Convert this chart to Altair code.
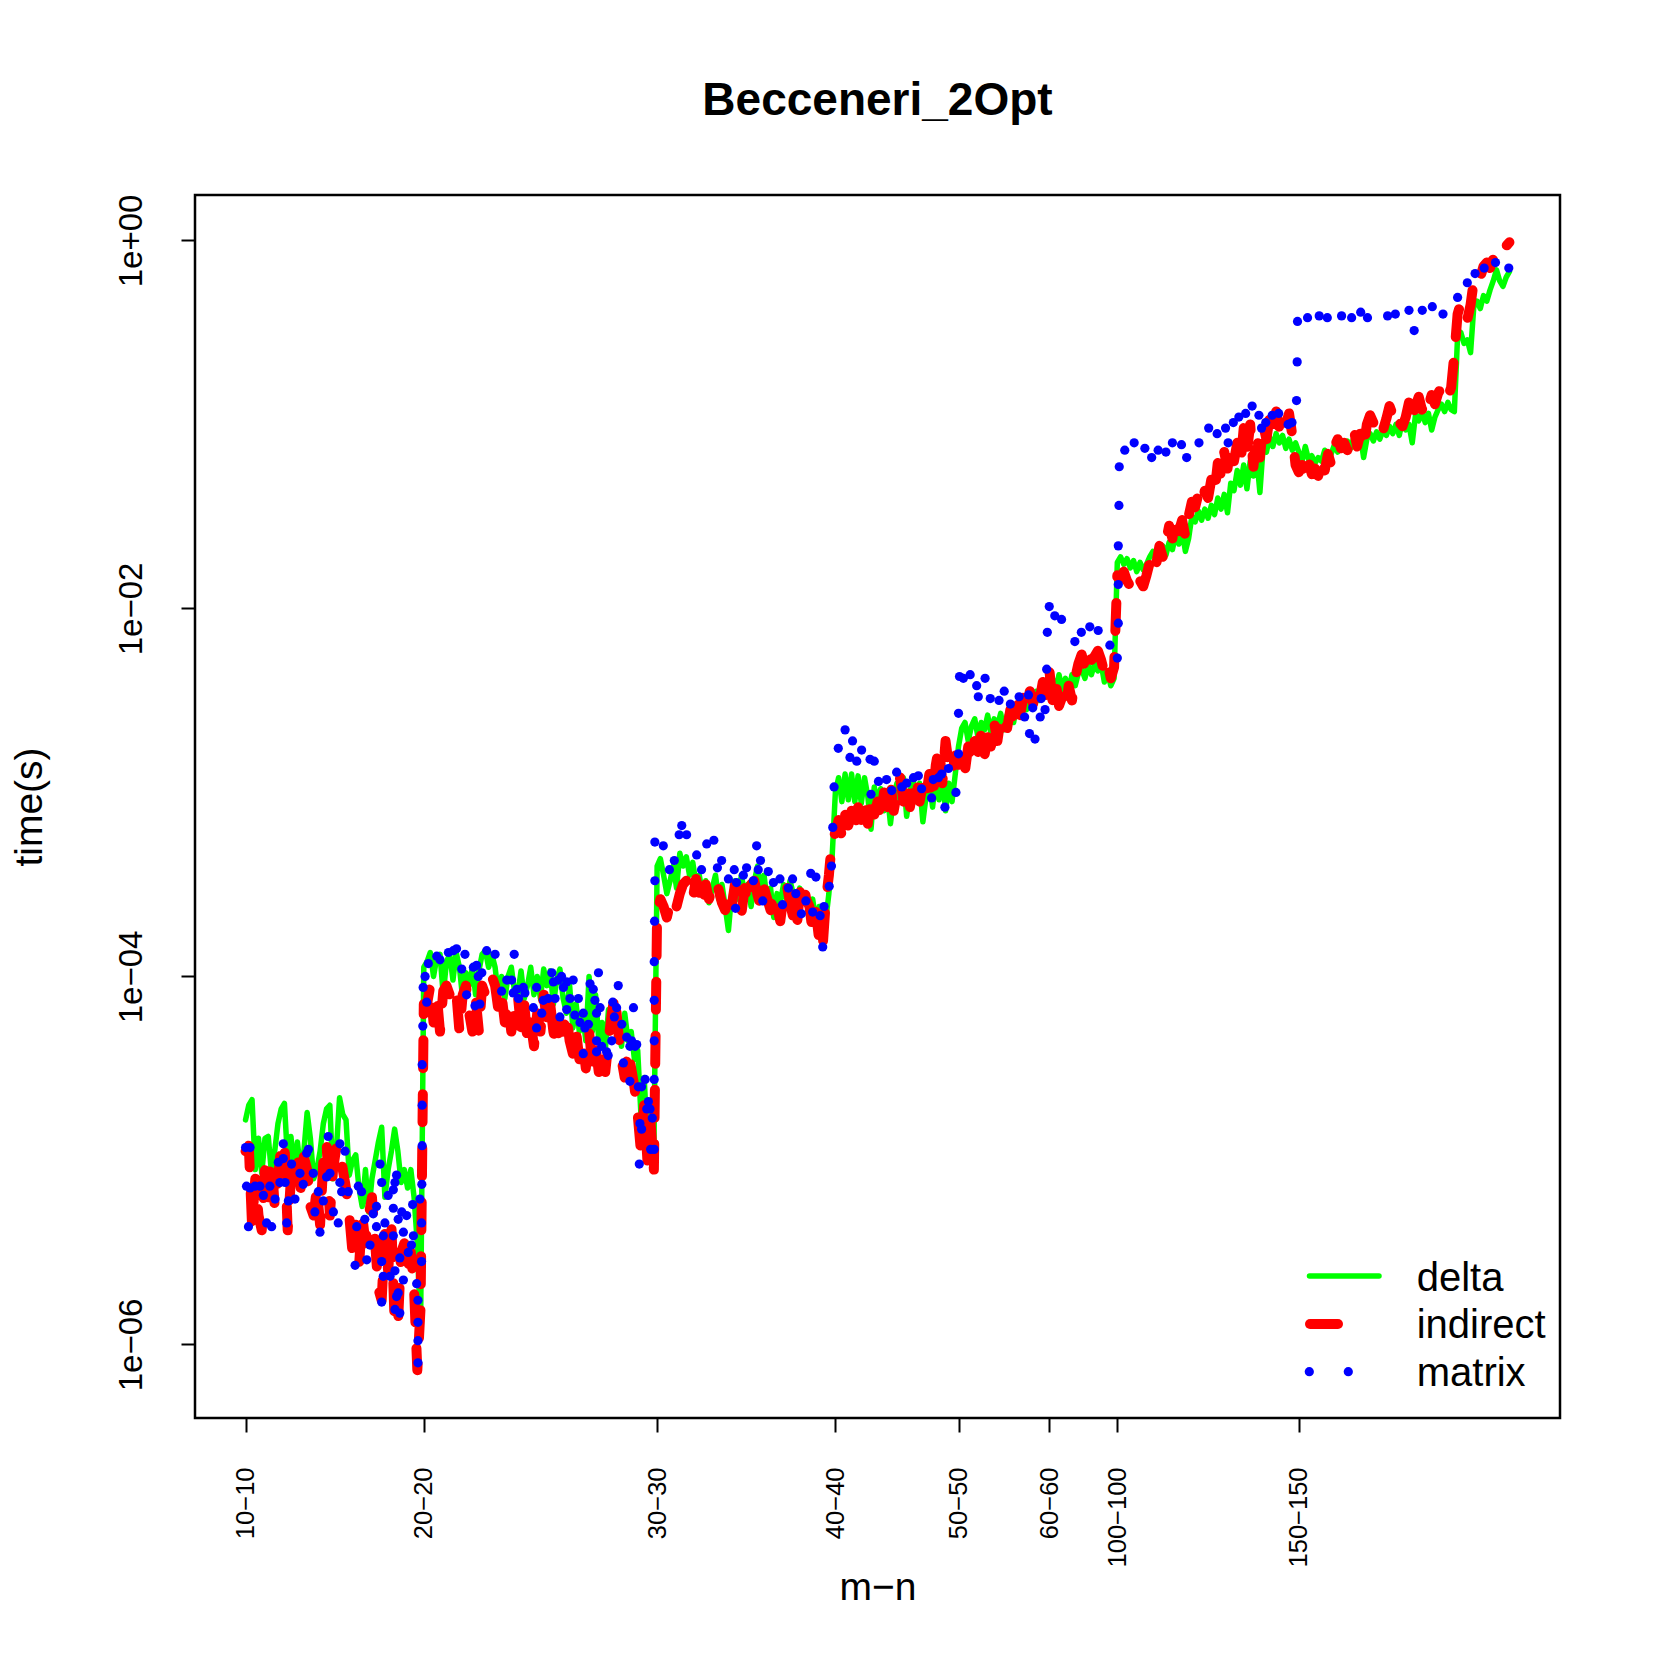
import math
import altair as alt
import pandas as pd

FONT = "Liberation Sans, Arial, Helvetica, sans-serif"

# ---- axis ticks / labels ----
tick_index = [1, 56, 128, 183, 221, 249, 270, 326]
tick_labels = ["10\u221210", "20\u221220", "30\u221230", "40\u221240",
               "50\u221250", "60\u221260", "100\u2212100", "150\u2212150"]
y_tick_values = [1.0, 1e-2, 1e-4, 1e-6]
y_tick_labels = ["1e+00", "1e\u221202", "1e\u221204", "1e\u221206"]

# ---- series values (log10 of time in seconds), one per instance index ----
delta_log10 = [
    # 10-10
    -4.78, -4.70, -4.67, -5.05, -4.88, -5.07, -4.88, -4.87, -5.07, -4.95,
    -4.80, -4.72, -4.69, -5.01, -4.87, -5.05, -4.90, -5.06, -4.95, -4.74,
    -4.88, -5.10, -5.05, -4.95, -4.80, -4.72, -4.70, -5.10, -4.95, -4.66,
    -4.75, -4.78, -5.08, -5.00, -4.97, -5.15, -5.25, -5.05, -5.28, -5.10,
    -5.00, -4.90, -4.82, -5.20, -5.05, -4.95, -4.83, -4.95, -5.12, -5.05,
    -5.15, -5.05, -5.20, -5.45, -5.92,
    # 20-20
    -3.95, -3.92, -3.87, -4.00, -3.90, -3.88, -4.10, -3.92, -3.88, -4.02,
    -3.87, -3.95, -4.12, -3.98, -4.05, -3.95, -4.10, -3.97, -3.88, -3.86,
    -3.95, -3.88, -3.95, -4.10, -4.00, -4.12, -4.00, -3.95, -4.08, -4.10,
    -3.97, -4.12, -4.05, -3.95, -4.10, -4.00, -4.12, -3.96, -4.05, -3.97,
    -4.15, -4.02, -3.96, -4.12, -4.20, -4.05, -4.28, -4.15, -4.30, -4.20,
    -4.35, -4.00, -4.30, -4.10, -4.35, -4.25, -4.40, -4.18, -4.30, -4.25,
    -4.22, -4.38, -4.20, -4.35, -4.30, -4.45, -4.40, -4.75, -4.55, -4.90,
    -4.70, -4.95,
    # 30-30
    -3.40, -3.36, -3.45, -3.55, -3.48, -3.40, -3.52, -3.33, -3.40, -3.35,
    -3.45, -3.38, -3.50, -3.45, -3.55, -3.48, -3.60, -3.52, -3.45, -3.58,
    -3.50, -3.62, -3.75, -3.55, -3.48, -3.58, -3.45, -3.55, -3.50, -3.62,
    -3.48, -3.40, -3.55, -3.45, -3.60, -3.52, -3.68, -3.55, -3.60, -3.50,
    -3.58, -3.48, -3.55, -3.62, -3.52, -3.60, -3.55, -3.65, -3.58, -3.70,
    -3.62, -3.78, -3.70, -3.55, -3.35,
    # 40-40
    -3.00, -2.92, -3.05, -2.90, -3.04, -2.90, -3.05, -2.91, -3.06, -2.92,
    -3.02, -3.20, -2.97, -3.05, -2.98, -3.10, -3.00, -3.17, -3.02, -2.95,
    -3.05, -2.92, -3.13, -3.00, -2.93, -3.05, -2.95, -3.16, -3.02, -2.94,
    -3.08, -2.92, -3.04, -2.90, -3.10, -2.95, -3.05, -2.90,
    # 50-50
    -2.75, -2.65, -2.62, -2.72, -2.64, -2.60, -2.70, -2.62, -2.66, -2.58,
    -2.68, -2.60, -2.64, -2.57, -2.66, -2.58, -2.55, -2.62, -2.52, -2.58,
    -2.50, -2.55, -2.47, -2.53, -2.45, -2.50, -2.42, -2.48,
    # 60-60
    -2.44, -2.38, -2.45, -2.36, -2.44, -2.38, -2.45, -2.36, -2.42, -2.35,
    -2.33, -2.38, -2.31, -2.36, -2.30, -2.34, -2.30, -2.40, -2.35, -2.42,
    -2.38,
    # 100-100
    -1.75, -1.72, -1.76, -1.73, -1.78, -1.74, -1.80, -1.75, -1.79, -1.76,
    -1.72, -1.69, -1.74, -1.70, -1.66, -1.71, -1.64, -1.68, -1.60, -1.65,
    -1.58, -1.69, -1.62, -1.50, -1.53, -1.47, -1.52, -1.46, -1.51, -1.44,
    -1.49, -1.40, -1.46, -1.38, -1.48, -1.32, -1.36, -1.25, -1.33, -1.22,
    -1.35, -1.20, -1.28, -1.18, -1.37, -1.12, -1.15, -1.07, -1.12, -1.05,
    -1.10, -1.06, -1.13, -1.08, -1.14, -1.10,
    # 150-150 and beyond
    -1.15, -1.20, -1.12, -1.19, -1.17, -1.21, -1.18, -1.20, -1.14, -1.21,
    -1.16, -1.11, -1.15, -1.10, -1.14, -1.09, -1.13, -1.07, -1.12, -1.06,
    -1.18, -1.08, -1.05, -1.09, -1.04, -1.08, -1.03, -1.06, -1.01, -1.05,
    -1.00, -1.06, -0.98, -1.03, -1.00, -1.10, -0.95, -0.98, -0.93, -0.99,
    -0.94, -1.03, -0.96, -0.92, -0.89, -0.93, -0.88, -0.92, -0.93, -0.52,
    -0.50, -0.56, -0.54, -0.61, -0.36, -0.33, -0.37, -0.30, -0.33, -0.27,
    -0.22, -0.16, -0.22, -0.25, -0.20, -0.17,
]

indirect_log10 = [
    # 10-10
    -4.95, -4.92, -5.35, -5.10, -5.30, -5.38, -5.05, -5.20, -5.00, -5.25,
    -5.10, -4.92, -4.90, -5.38, -5.10, -5.00, -4.97, -5.15, -4.98, -5.05,
    -5.25, -5.30, -5.15, -5.35, -5.00, -4.90, -5.30, -5.05, -4.93, -4.92,
    -5.05, -5.15, -5.30, -5.50, -5.35, -5.58, -5.30, -5.45, -5.30, -5.20,
    -5.45, -5.70, -5.76, -5.40, -5.60, -5.35, -5.88, -5.90, -5.50, -5.45,
    -5.60, -5.50, -5.70, -6.14, -5.80,
    # 20-20
    -4.15, -4.15, -4.05, -4.25, -4.10, -4.30, -4.08, -4.05, -4.10, -4.05,
    -4.08, -4.30, -4.10, -4.05, -4.20, -4.30, -4.12, -4.30, -4.05, -4.10,
    -4.02, -4.00, -4.05, -4.18, -4.10, -4.25, -4.15, -4.30, -4.20, -4.10,
    -4.28, -4.15, -4.35, -4.25, -4.38, -4.20, -4.30, -4.10, -4.25, -4.15,
    -4.30, -4.38, -4.25, -4.30, -4.20, -4.35, -4.42, -4.30, -4.45, -4.35,
    -4.50, -4.30, -4.48, -4.38, -4.52, -4.40, -4.52, -4.35, -4.20, -4.10,
    -4.30, -4.45, -4.55, -4.40, -4.50, -4.60, -4.75, -4.95, -4.70, -5.00,
    -4.80, -5.05,
    # 30-30
    -3.65, -3.58, -3.62, -3.68, -3.60, -3.65, -3.62, -3.55, -3.50, -3.48,
    -3.52, -3.58, -3.47, -3.55, -3.62, -3.50, -3.58, -3.52, -3.48, -3.53,
    -3.60, -3.64, -3.55, -3.62, -3.50, -3.58, -3.66, -3.52, -3.60, -3.50,
    -3.48, -3.56, -3.62, -3.52, -3.58, -3.64, -3.55, -3.62, -3.70, -3.56,
    -3.50, -3.60, -3.68, -3.75, -3.55, -3.48, -3.58, -3.62, -3.76, -3.65,
    -3.80, -3.86, -3.60, -3.45, -3.25,
    # 40-40
    -3.22, -3.15, -3.24, -3.12, -3.18, -3.10, -3.20, -3.08, -3.15, -3.05,
    -3.17, -3.02, -3.12, -3.05, -3.14, -3.00, -3.08, -2.95, -3.10, -3.00,
    -2.92, -3.05, -2.95, -3.08, -2.98, -2.92, -3.05, -2.95, -3.02, -2.90,
    -3.04, -2.85, -2.75, -2.95, -2.72, -2.85, -2.90, -2.80,
    # 50-50
    -2.85, -2.78, -2.88, -2.75, -2.82, -2.72, -2.78, -2.68, -2.80, -2.70,
    -2.75, -2.62, -2.72, -2.60, -2.58, -2.65, -2.55, -2.60, -2.50, -2.58,
    -2.48, -2.55, -2.45, -2.52, -2.44, -2.50, -2.40, -2.47,
    # 60-60
    -2.33, -2.50, -2.40, -2.53, -2.48, -2.55, -2.42, -2.50, -2.38, -2.30,
    -2.25, -2.32, -2.24, -2.28, -2.26, -2.23, -2.28, -2.35, -2.30, -2.38,
    -2.32,
    # 100-100
    -1.82, -1.84, -1.80, -1.85, -1.88, -1.86, -1.90, -1.85, -1.88, -1.82,
    -1.75, -1.70, -1.76, -1.66, -1.72, -1.64, -1.55, -1.62, -1.50, -1.58,
    -1.52, -1.61, -1.50, -1.42, -1.45, -1.38, -1.43, -1.36, -1.40, -1.30,
    -1.37, -1.21, -1.28, -1.15, -1.24, -1.12, -1.20, -1.10, -1.22, -1.02,
    -1.15, -1.00, -1.23, -1.05, -1.18, -1.00, -1.08, -0.96, -1.04, -0.93,
    -1.02, -0.95, -1.00, -0.94, -1.06, -1.22,
    # 150-150 and beyond
    -1.26, -1.22, -1.28, -1.20, -1.27, -1.24, -1.28, -1.18, -1.25, -1.16,
    -1.22, -1.12, -1.08, -1.13, -1.10, -1.14, -1.08, -1.03, -1.12, -1.05,
    -1.13, -1.00, -0.95, -0.99, -0.95, -1.00, -1.03, -0.97, -0.90, -0.95,
    -0.92, -0.99, -1.01, -0.96, -0.88, -0.97, -0.90, -0.85, -0.92, -0.86,
    -0.90, -0.84, -0.89, -0.83, -0.80, -0.86, -0.85, -0.80, -0.62, -0.40,
    -0.34, -0.38, -0.43, -0.35, -0.22, -0.18, -0.20, -0.14, -0.12, -0.15,
    -0.10, -0.08, -0.05, -0.07, -0.03, -0.01,
]

# matrix: dots (instance index, log10 seconds)
matrix_index = [
    1.0, 1.3, 1.9, 2.4, 2.4, 3.9, 5.45, 6.5, 7.5, 8.5,
    9.05, 10.1, 11.1, 11.6, 12.65, 12.65, 13.2, 13.7, 14.2, 15.2,
    16.25, 17.8, 18.8, 19.85, 20.4, 21.9, 22.4, 23.45, 23.96, 25.0,
    26.0, 26.5, 27.05, 28.1, 29.6, 30.1, 30.1, 30.65, 31.7, 32.7,
    34.8, 35.3, 35.8, 36.8, 37.8, 38.4, 39.4, 40.4, 41.4, 41.4,
    42.5, 43.0, 43.0, 43.0, 43.5, 43.5, 44.0, 45.0, 45.6, 46.6,
    46.6, 46.6, 47.1, 47.1, 47.1, 47.6, 47.6, 48.1, 48.1, 48.6,
    48.6, 49.2, 49.7, 49.7, 50.7, 51.2, 52.2, 52.55, 52.8, 53.8,
    54.2, 54.2, 54.2, 54.2, 54.8, 55.3, 55.3, 55.4, 55.5, 55.5,
    55.5, 55.7, 55.8,
    56.4, 56.9, 57.4, 60.0, 61.0, 63.6, 65.1, 66.1, 67.7, 68.7,
    69.2, 71.3, 71.8, 72.3, 72.8, 73.3, 73.9, 75.4, 78.0, 80.0,
    81.6, 83.1, 83.6, 83.9, 84.7, 85.2, 86.7, 87.2, 89.8, 90.8,
    90.8, 92.4, 92.9, 94.4, 95.5, 96.0, 96.5, 97.5, 98.0, 98.5,
    99.1, 100.1, 100.1, 101.1, 102.1, 102.6, 103.7, 104.2, 105.2, 105.2,
    105.7, 106.8, 107.3, 108.3, 108.8, 109.3, 109.3, 109.3, 109.9, 110.4,
    110.9, 112.4, 112.9, 114.0, 114.3, 114.8, 115.5, 116.0, 117.1, 117.6,
    118.6, 119.6, 119.6, 120.1, 120.7, 121.2, 121.7, 122.2, 122.5, 122.7,
    123.2, 123.2, 124.3, 124.8, 125.3, 125.8, 126.0, 126.5, 127.1, 127.1,
    127.1, 127.1, 127.1, 127.2, 127.3, 127.3,
    129.9, 131.8, 133.3, 134.8, 135.6, 137.1, 140.2, 141.7, 143.3, 145.5,
    146.6, 147.9, 150.0, 151.8, 152.2, 152.5, 154.6, 155.6, 157.7, 158.7,
    159.2, 159.9, 160.6, 162.3, 163.9, 165.9, 166.7, 168.5, 169.8, 170.8,
    172.5, 173.9, 175.4, 176.0, 177.0, 178.3, 179.1, 179.5, 181.1, 181.8,
    182.2, 182.6,
    183.9, 186.0, 187.5, 188.3, 189.6, 191.1, 193.7, 194.0, 195.0, 196.3,
    198.8, 200.4, 201.9, 203.5, 205.0, 207.1, 208.6, 209.6, 212.7, 213.2,
    214.8, 215.8, 216.8, 217.9, 220.2,
    221.0, 221.0, 221.3, 222.5, 224.6, 226.6, 227.1, 229.2, 230.8, 233.5,
    235.1, 237.0, 239.7, 241.4, 242.6, 242.9, 243.9, 244.6, 246.2, 246.5,
    247.7,
    248.2, 248.4, 249.0, 250.7, 252.8, 256.9, 258.9, 261.5, 264.1, 267.7,
    270.0, 270.3, 270.3, 270.3, 270.5, 270.6,
    272.3, 275.2, 278.5, 280.6, 282.6, 285.0, 287.0, 289.8, 291.4, 295.2,
    298.2, 300.8, 303.4, 304.2, 305.8, 307.5, 309.6, 311.6, 313.7, 314.5,
    315.8, 317.8, 319.8, 322.7, 323.9, 325.3, 325.5, 325.6,
    328.7, 332.3, 334.8, 339.2, 342.3, 345.1, 347.2, 353.4, 355.8, 360.0,
    361.6, 364.1, 367.2, 370.5, 375.0, 378.0, 380.4, 383.2, 386.7, 390.8,
]
matrix_log10 = [
    -4.93, -5.14, -5.36, -4.93, -5.15, -5.14, -5.14, -5.19, -5.34, -5.14,
    -5.36, -5.21, -5.01, -5.12, -4.99, -4.91, -5.12, -5.34, -5.22, -5.02,
    -5.21, -5.07, -5.13, -4.96, -4.94, -5.07, -5.28, -5.17, -5.39, -5.22,
    -5.09, -4.87, -5.07, -5.28, -5.34, -4.91, -5.12, -5.17, -4.95, -5.17,
    -5.57, -5.36, -5.14, -5.17, -5.32, -5.54, -5.46, -5.29, -5.25, -5.36,
    -5.02, -5.12, -5.55, -5.77, -5.41, -5.63, -5.34, -5.19, -5.63, -5.16,
    -5.26, -5.41, -5.12, -5.60, -5.81, -5.08, -5.74, -5.32, -5.72, -5.53,
    -5.83, -5.28, -5.39, -5.65, -5.30, -5.50, -5.46, -5.24, -5.41, -5.67,
    -5.76, -5.88, -5.98, -6.10, -5.21, -5.55, -5.34, -5.13, -4.92, -4.70,
    -4.48, -4.27, -4.06,
    -4.00, -4.14, -3.93, -3.89, -3.91, -3.87, -3.86, -3.85, -3.96, -3.88,
    -4.10, -3.95, -4.16, -3.94, -4.00, -4.15, -3.98, -3.86, -3.88, -4.08,
    -4.02, -4.02, -4.09, -3.88, -4.07, -4.12, -4.06, -4.09, -4.17, -4.06,
    -4.28, -4.20, -4.13, -4.12, -3.98, -4.03, -4.12, -4.02, -4.22, -4.00,
    -4.06, -4.03, -4.18, -4.12, -4.02, -4.21, -4.12, -4.25, -4.20, -4.42,
    -4.28, -4.26, -4.04, -4.07, -4.13, -4.20, -4.35, -4.41, -3.98, -4.17,
    -4.38, -4.41, -4.43, -4.35, -4.14, -4.22, -4.17, -4.05, -4.26, -4.47,
    -4.33, -4.38, -4.57, -4.35, -4.17, -4.38, -4.37, -4.60, -5.02, -4.80,
    -4.60, -4.83, -4.56, -4.72, -4.68, -4.72, -4.94, -4.77, -4.94, -4.56,
    -4.35, -4.13, -3.92, -3.70, -3.48, -3.27,
    -3.29, -3.42, -3.37, -3.23, -3.18, -3.23, -3.34, -3.42, -3.28, -3.26,
    -3.41, -3.37, -3.47, -3.42, -3.63, -3.49, -3.45, -3.41, -3.48, -3.29,
    -3.42, -3.37, -3.59, -3.43, -3.49, -3.47, -3.61, -3.52, -3.47, -3.55,
    -3.66, -3.59, -3.44, -3.65, -3.46, -3.67, -3.84, -3.62, -3.51, -3.40,
    -3.19, -2.97,
    -2.76, -2.66, -2.81, -2.72, -2.83, -2.77, -2.82, -3.01, -2.83, -2.94,
    -2.93, -2.99, -2.89, -2.97, -2.95, -2.92, -2.91, -2.98, -3.03, -2.93,
    -2.92, -2.90, -3.08, -2.87, -3.00,
    -2.79, -2.57, -2.37, -2.38, -2.36, -2.42, -2.48, -2.38, -2.49, -2.50,
    -2.45, -2.52, -2.48, -2.59, -2.47, -2.68, -2.54, -2.71, -2.59, -2.49,
    -2.55,
    -2.33, -2.13, -1.99, -2.04, -2.06, -2.18, -2.13, -2.10, -2.12, -2.20,
    -2.27, -2.08, -1.87, -1.66, -1.44, -1.23,
    -1.14, -1.10, -1.13, -1.18, -1.14, -1.15, -1.10, -1.11, -1.18, -1.10,
    -1.02, -1.05, -1.02, -1.10, -0.99, -0.96, -0.94, -0.90, -0.95, -1.02,
    -0.99, -0.95, -0.94, -1.00, -0.99, -0.87, -0.66, -0.44,
    -0.42, -0.41, -0.42, -0.41, -0.42, -0.39, -0.42, -0.41, -0.40, -0.38,
    -0.49, -0.38, -0.36, -0.40, -0.31, -0.23, -0.18, -0.15, -0.12, -0.15,
]

legend_names = ["delta", "indirect", "matrix"]
legend_colors = ["#00FF00", "#FF0000", "#0000FF"]

assert len(delta_log10) == 391, len(delta_log10)
assert len(indirect_log10) == 391, len(indirect_log10)
assert len(matrix_index) == len(matrix_log10), (len(matrix_index), len(matrix_log10))

n = len(delta_log10)
idx = list(range(1, n + 1))
delta_df = pd.DataFrame({"idx": idx, "time": [10 ** v for v in delta_log10]})
indirect_df = pd.DataFrame({"idx": idx, "time": [10 ** v for v in indirect_log10]})
matrix_df = pd.DataFrame({"idx": matrix_index, "time": [10 ** v for v in matrix_log10]})

W, H = 1365, 1223
pad = 0.04 * (n - 1)
x_scale = alt.Scale(domain=[1 - pad, n + pad], nice=False, zero=False)
y_scale = alt.Scale(type="log", domain=[10 ** -6.40, 10 ** 0.247], nice=False)

x_expr = " : ".join(f"datum.value == {v} ? '{lab}'" for v, lab in zip(tick_index, tick_labels)) + " : ''"
y_expr = " : ".join(
    f"round(log(datum.value)/LN10) == {round(math.log10(v))} ? '{lab}'"
    for v, lab in zip(y_tick_values, y_tick_labels)
) + " : ''"

x_axis = alt.Axis(
    values=tick_index, labelExpr=x_expr, labelAngle=270, labelAlign="right",
    labelBaseline="middle", labelFontSize=25.5, labelFont=FONT, labelColor="black",
    labelPadding=35, labelOverlap=False, labelFlush=False,
    tickSize=14, tickWidth=2, tickColor="black", domain=False, grid=False,
    title="m\u2212n", titleFont=FONT, titleFontSize=39, titleFontWeight="normal",
    titleColor="black", titleX=W / 2, titleY=181, titleAlign="center",
    titleBaseline="alphabetic", titleAngle=0,
)
y_axis = alt.Axis(
    values=y_tick_values, labelExpr=y_expr, labelAngle=270, labelAlign="center",
    labelBaseline="alphabetic", labelFontSize=33, labelFont=FONT, labelColor="black",
    labelPadding=40, labelOverlap=False, labelFlush=False,
    tickSize=14, tickWidth=2, tickColor="black", domain=False, grid=False,
    title="time(s)", titleFont=FONT, titleFontSize=39, titleFontWeight="normal",
    titleColor="black", titleX=-154, titleY=H / 2, titleAngle=270,
    titleAlign="center", titleBaseline="alphabetic",
)

X = alt.X("idx:Q", scale=x_scale, axis=x_axis)
Y = alt.Y("time:Q", scale=y_scale, axis=y_axis)

green = alt.Chart(delta_df).mark_line(
    color=legend_colors[0], strokeWidth=5.5, strokeCap="round", strokeJoin="round", clip=True
).encode(x=X, y=Y)

red = alt.Chart(indirect_df).mark_line(
    color=legend_colors[1], strokeWidth=10, strokeCap="round", strokeJoin="round",
    strokeDash=[28, 26], clip=True
).encode(x=X, y=Y)

blue = alt.Chart(matrix_df).mark_circle(
    color=legend_colors[2], size=85, opacity=1, clip=True
).encode(x=X, y=Y)

one = pd.DataFrame({"k": [0]})
leg_green = alt.Chart(one).mark_rule(
    color=legend_colors[0], strokeWidth=5.5, strokeCap="round"
).encode(x=alt.value(1114.5), x2=alt.value(1184), y=alt.value(1081))
leg_red = alt.Chart(one).mark_rule(
    color=legend_colors[1], strokeWidth=10, strokeCap="round"
).encode(x=alt.value(1115), x2=alt.value(1143), y=alt.value(1129))
leg_blue1 = alt.Chart(one).mark_circle(color=legend_colors[2], size=85, opacity=1).encode(
    x=alt.value(1114.3), y=alt.value(1176.7))
leg_blue2 = alt.Chart(one).mark_circle(color=legend_colors[2], size=85, opacity=1).encode(
    x=alt.value(1153.3), y=alt.value(1176.7))
leg_texts = [
    alt.Chart(one).mark_text(
        align="left", baseline="alphabetic", fontSize=40, font=FONT, color="black"
    ).encode(x=alt.value(1221.7), y=alt.value(yb), text=alt.value(name))
    for name, yb in zip(legend_names, [1095.7, 1143.3, 1191.0])
]

chart = alt.layer(
    green, red, blue, leg_green, leg_red, leg_blue1, leg_blue2, *leg_texts
).properties(
    width=W, height=H,
    padding={"left": 187, "top": 187, "right": 60, "bottom": 220},
    autosize=alt.AutoSizeParams(type="none"),
    background="white",
    title=alt.TitleParams(
        text="Becceneri_2Opt", font=FONT, fontSize=46, fontWeight="bold",
        color="black", anchor="middle", frame="group", baseline="alphabetic", offset=33,
    ),
).configure_view(stroke="black", strokeWidth=2.5)

chart.save("out.html", embed_options={"renderer": "svg", "actions": False})
